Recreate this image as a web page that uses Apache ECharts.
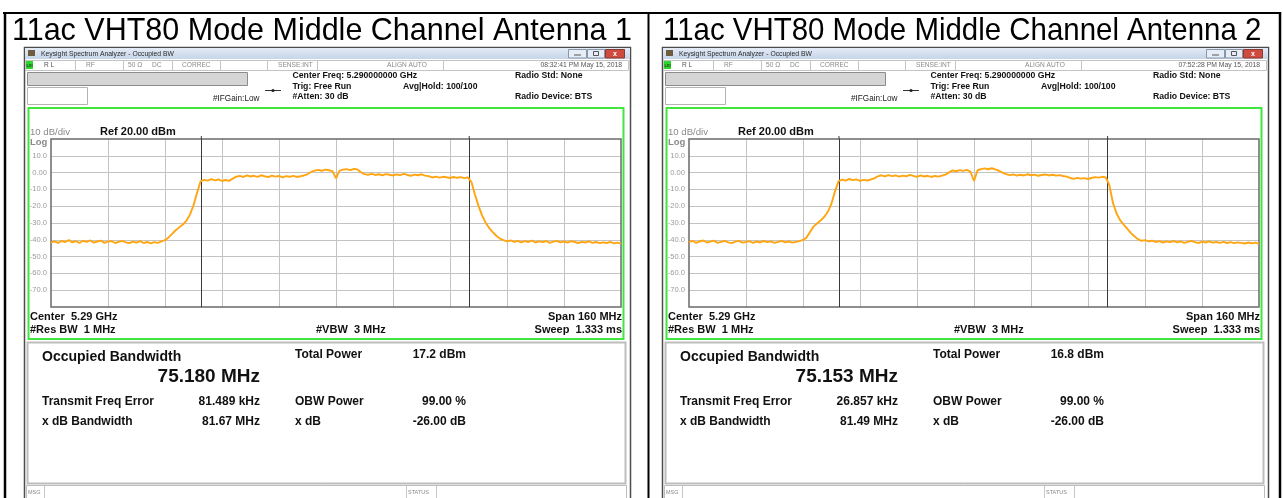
<!DOCTYPE html>
<html>
<head>
<meta charset="utf-8">
<title>11ac VHT80 Mode Middle Channel</title>
<script src="https://cdn.jsdelivr.net/npm/echarts@6.0.0/dist/echarts.min.js"></script>
<style>
  html, body { margin: 0; padding: 0; background: #fff; }
  #main { width: 1283px; height: 498px; }
</style>
</head>
<body>
<div id="main"></div>
<script>
// frequency offset from 5.29 GHz centre, MHz (span 160 MHz)
const freqOffsetMHz = [
  -80, -79, -78, -77, -76, -75, -74, -73, -72, -71,
  -70, -69, -68, -67, -66, -65, -64, -63, -62, -61,
  -60, -59, -58, -57, -56, -55, -54, -53, -52, -51,
  -50, -49, -48, -47, -46, -45, -44, -43, -42, -41,
  -40, -39, -38, -37, -36, -35, -34, -33, -32, -31,
  -30, -29, -28, -27, -26, -25, -24, -23, -22, -21,
  -20, -19, -18, -17, -16, -15, -14, -13, -12, -11,
  -10, -9, -8, -7, -6, -5, -4, -3, -2, -1,
  0, 1, 2, 3, 4, 5, 6, 7, 8, 9,
  10, 11, 12, 13, 14, 15, 16, 17, 18, 19,
  20, 21, 22, 23, 24, 25, 26, 27, 28, 29,
  30, 31, 32, 33, 34, 35, 36, 37, 38, 39,
  40, 41, 42, 43, 44, 45, 46, 47, 48, 49,
  50, 51, 52, 53, 54, 55, 56, 57, 58, 59,
  60, 61, 62, 63, 64, 65, 66, 67, 68, 69,
  70, 71, 72, 73, 74, 75, 76, 77, 78, 79,
  80
];

// trace level, dBm  (antenna 1)
const levelAnt1 = [
  -41.6, -40.9, -41.8, -40.7, -41.3, -40.2, -41.5, -40.8, -41.9, -40.6,
  -41.2, -40.4, -41.7, -41.0, -40.5, -41.8, -41.1, -40.7, -41.9, -41.2,
  -40.6, -41.5, -42.0, -41.1, -41.7, -40.8, -41.9, -41.3, -42.1, -41.4,
  -41.8, -41.0, -40.2, -38.6, -36.5, -34.3, -32.6, -30.9, -28.7, -25.0,
  -19.5, -12.0, -5.2, -4.3, -4.8, -3.9, -4.6, -4.1, -5.0, -4.4,
  -4.9, -3.6, -2.4, -2.0, -2.6, -1.7, -2.3, -1.9, -2.5, -1.6,
  -2.2, -2.7, -1.8, -2.4, -2.0, -2.8, -2.1, -2.5, -1.9, -2.6,
  -2.2, -1.7, -1.0, 0.4, 1.2, 1.6, 1.1, 1.8, 1.4, 0.9,
  -3.4, 1.2, 1.8, 2.1, 1.5, 2.2, 1.9, 0.2, -0.9, -1.3,
  -0.8, -1.4, -1.0, -1.6, -0.9, -1.3, -1.7, -1.1, -1.5, -0.8,
  -1.4, -1.9, -1.2, -1.6, -1.0, -1.8, -2.1, -2.9, -2.4, -3.0,
  -2.5, -2.8, -3.2, -2.6, -3.1, -2.7, -3.3, -2.8, -5.5, -13.0,
  -19.8, -25.5, -29.8, -33.0, -35.4, -37.6, -39.3, -40.2, -40.9, -40.4,
  -41.2, -40.6, -41.5, -40.8, -41.3, -40.5, -41.6, -40.9, -41.4, -40.7,
  -41.8, -41.1, -40.6, -41.5, -41.0, -41.7, -40.8, -41.3, -41.9, -41.2,
  -41.6, -40.9, -41.8, -41.3, -42.0, -41.5, -41.9, -41.2, -42.1, -41.7,
  -42.3
];

// trace level, dBm  (antenna 2)
const levelAnt2 = [
  -41.3, -40.6, -41.9, -41.0, -40.4, -41.6, -41.1, -40.5, -41.8, -41.2,
  -40.7, -41.5, -42.0, -41.1, -40.6, -41.7, -41.3, -40.8, -41.9, -41.0,
  -41.6, -40.7, -41.4, -40.9, -41.8, -41.2, -40.6, -41.5, -41.0, -41.7,
  -41.2, -40.8, -40.1, -38.7, -35.2, -32.0, -30.1, -28.4, -26.3, -23.2,
  -18.4, -11.0, -5.1, -4.2, -4.8, -3.8, -4.5, -4.0, -4.9, -4.3,
  -4.7, -4.1, -3.4, -2.2, -1.6, -2.3, -1.5, -2.1, -1.7, -2.4,
  -1.8, -2.2, -1.4, -2.0, -2.5, -1.7, -2.3, -1.9, -2.6, -2.0,
  -2.4, -1.8, -1.2, 0.1, 1.3, 0.8, 1.5, 1.0, 1.6, 0.6,
  -5.0, 1.4, 2.1, 2.5, 2.0, 2.6, 1.9, 1.1, 0.0, -0.9,
  -1.5, -1.1, -1.8, -1.3, -1.7, -1.0, -1.6, -1.2, -1.9, -1.4,
  -1.1, -1.7, -1.3, -1.8, -1.5, -2.0, -2.4, -3.2, -3.7, -3.1,
  -3.6, -3.3, -3.8, -3.2, -2.7, -3.0, -2.5, -2.9, -7.5, -18.0,
  -24.2, -28.3, -30.9, -33.4, -35.9, -37.9, -39.6, -40.6, -40.2, -41.0,
  -40.5, -41.3, -40.8, -41.6, -40.9, -41.4, -40.7, -41.5, -41.0, -41.8,
  -41.2, -40.6, -41.4, -41.9, -41.1, -41.6, -40.9, -41.7, -41.3, -41.8,
  -41.2, -41.9, -41.4, -42.0, -41.5, -41.8, -42.2, -41.6, -42.1, -41.7,
  -42.4
];

// y tick labels from ref level (20) down to -80
const yTickLabels = ['', '10.0', '0.00', '-10.0', '-20.0', '-30.0', '-40.0', '-50.0', '-60.0', '-70.0', ''];

// occupied bandwidth edges (marker lines), MHz offset
const obwEdgesAnt1 = [-37.8, 37.4];
const obwEdgesAnt2 = [-37.9, 37.5];

const panelTitles = ['11ac VHT80 Mode Middle Channel Antenna 1', '11ac VHT80 Mode Middle Channel Antenna 2'];
const timeStamps = ['08:32:41 PM May 15, 2018', '07:52:28 PM May 15, 2018'];
const obwValues = ['75.180 MHz', '75.153 MHz'];
const totalPowers = ['17.2 dBm', '16.8 dBm'];
const freqErrors = ['81.489 kHz', '26.857 kHz'];
const xdbBandwidths = ['81.67 MHz', '81.49 MHz'];

const FONT = '"Liberation Sans", Arial, sans-serif';
const PANEL_SHIFT = 638;

function text(x, y, s, size, opt) {
  opt = opt || {};
  return {
    type: 'text', x: x, y: y, z: 20, silent: true,
    style: {
      text: s,
      font: (opt.bold ? 'bold ' : '') + size + 'px ' + FONT,
      fill: opt.color || '#111',
      align: opt.align || 'left', textAlign: opt.align || 'left',
      verticalAlign: 'middle', textVerticalAlign: 'middle'
    }
  };
}
function rect(x, y, w, h, fill, stroke, lw, z) {
  return {
    type: 'rect', z: z == null ? 1 : z, silent: true,
    shape: { x: x, y: y, width: w, height: h },
    style: { fill: fill || 'none', stroke: stroke || null, lineWidth: lw || 1 }
  };
}
function line(x1, y1, x2, y2, color, lw, z) {
  return {
    type: 'line', z: z == null ? 2 : z, silent: true,
    shape: { x1: x1, y1: y1, x2: x2, y2: y2 },
    style: { stroke: color, lineWidth: lw || 1 }
  };
}

// analyzer screenshot chrome for one panel, ox = horizontal shift
function panelGraphics(i) {
  var ox = i * PANEL_SHIFT;
  var g = [];
  // window body
  g.push(rect(ox + 24.5, 47.5, 606, 460, '#ffffff', '#4d4d4d', 1.5, 0));
  // title bar
  g.push({
    type: 'rect', z: 1, silent: true,
    shape: { x: ox + 25, y: 48, width: 605, height: 11 },
    style: {
      fill: new echarts.graphic.LinearGradient(0, 0, 0, 1, [
        { offset: 0, color: '#e3ebf6' }, { offset: 1, color: '#c6d5e9' }
      ])
    }
  });
  g.push(rect(ox + 28, 50, 7, 6, '#6e5d3c', null, 1, 2));
  g.push(text(ox + 41, 54, 'Keysight Spectrum Analyzer - Occupied BW', 6.8, { color: '#2a2a2a' }));
  g.push(rect(ox + 568.5, 49.5, 18, 8.5, '#e6edf6', '#8796ab', 1, 2));
  g.push(line(ox + 574, 55, ox + 581, 55, '#555', 1, 3));
  g.push(rect(ox + 587.5, 49.5, 17, 8.5, '#e6edf6', '#8796ab', 1, 2));
  g.push(rect(ox + 593.5, 51.5, 5, 4, null, '#555', 1, 3));
  g.push(rect(ox + 605.5, 49.5, 19, 8.5, '#cf4b3e', '#8a3a30', 1, 2));
  g.push(text(ox + 615, 54, 'x', 7, { bold: true, color: '#fff', align: 'center' }));

  // status row
  g.push(rect(ox + 25.5, 60.5, 603, 10, '#ffffff', '#c4c4c4', 1, 1));
  g.push(rect(ox + 26, 61, 7, 8, '#2fd42f', null, 1, 2));
  g.push(text(ox + 29.5, 65.5, 'LXI', 4, { bold: true, color: '#114411', align: 'center' }));
  [75, 123, 172, 220, 267, 317, 443].forEach(function (x) {
    g.push(line(ox + x + 0.5, 61, ox + x + 0.5, 70, '#c4c4c4', 1, 2));
  });
  var gray = '#8a8a8a';
  g.push(text(ox + 44, 65.5, 'R L', 6.6, { color: '#555' }));
  g.push(text(ox + 86, 65.5, 'RF', 6.6, { color: gray }));
  g.push(text(ox + 128, 65.5, '50 Ω', 6.6, { color: gray }));
  g.push(text(ox + 152, 65.5, 'DC', 6.6, { color: gray }));
  g.push(text(ox + 182, 65.5, 'CORREC', 6.6, { color: gray }));
  g.push(text(ox + 278, 65.5, 'SENSE:INT', 6.6, { color: gray }));
  g.push(text(ox + 387, 65.5, 'ALIGN AUTO', 6.6, { color: gray }));
  g.push(text(ox + 622, 65.5, timeStamps[i], 6.8, { color: '#555', align: 'right' }));

  // header boxes and settings
  g.push(rect(ox + 27.5, 72.5, 220, 13, '#d5d5d5', '#8c8c8c', 1, 1));
  g.push(rect(ox + 27.5, 87.5, 60, 17, '#ffffff', '#b4b4b4', 1, 1));
  g.push(text(ox + 213, 98.5, '#IFGain:Low', 8.2, { color: '#222' }));
  g.push(line(ox + 265, 90.5, ox + 281, 90.5, '#333', 1, 2));
  g.push({ type: 'circle', z: 3, silent: true, shape: { cx: ox + 273, cy: 90.5, r: 1.6 }, style: { fill: '#222' } });
  g.push(text(ox + 292.5, 76, 'Center Freq: 5.290000000 GHz', 8.7, { bold: true }));
  g.push(text(ox + 292.5, 86.5, 'Trig: Free Run', 8.7, { bold: true }));
  g.push(text(ox + 292.5, 97, '#Atten: 30 dB', 8.7, { bold: true }));
  g.push(text(ox + 403, 86.5, 'Avg|Hold: 100/100', 8.7, { bold: true }));
  g.push(text(ox + 515, 76, 'Radio Std: None', 8.7, { bold: true }));
  g.push(text(ox + 515, 97, 'Radio Device: BTS', 8.7, { bold: true }));

  // green measurement frame
  g.push(rect(ox + 28.5, 108, 595, 231, null, '#3ee63e', 2, 2));
  g.push(text(ox + 30, 132, '10 dB/div', 9.6, { color: '#8a8a8a' }));
  g.push(text(ox + 100, 132, 'Ref 20.00 dBm', 11, { bold: true }));
  g.push(text(ox + 30, 142.5, 'Log', 9.5, { bold: true, color: '#8a8a8a' }));
  g.push(text(ox + 30, 317, 'Center  5.29 GHz', 11, { bold: true }));
  g.push(text(ox + 30, 330, '#Res BW  1 MHz', 11, { bold: true }));
  g.push(text(ox + 316, 330, '#VBW  3 MHz', 11, { bold: true }));
  g.push(text(ox + 622, 317, 'Span 160 MHz', 11, { bold: true, align: 'right' }));
  g.push(text(ox + 622, 330, 'Sweep  1.333 ms', 11, { bold: true, align: 'right' }));
  // marker lines poke slightly above the graticule
  g.push(line(ox + 51 + (obwEdges[i][0] + 80) * 570 / 160, 136, ox + 51 + (obwEdges[i][0] + 80) * 570 / 160, 139, '#3a3a3a', 1, 6));
  g.push(line(ox + 51 + (obwEdges[i][1] + 80) * 570 / 160, 136, ox + 51 + (obwEdges[i][1] + 80) * 570 / 160, 139, '#3a3a3a', 1, 6));

  // result table
  g.push(rect(ox + 27.5, 342.5, 598, 141, '#ffffff', '#bdbdbd', 2, 1));
  g.push(text(ox + 42, 357, 'Occupied Bandwidth', 14, { bold: true }));
  g.push(text(ox + 260, 376.5, obwValues[i], 19, { bold: true, align: 'right' }));
  g.push(text(ox + 295, 355, 'Total Power', 12, { bold: true }));
  g.push(text(ox + 466, 355, totalPowers[i], 12, { bold: true, align: 'right' }));
  g.push(text(ox + 42, 402, 'Transmit Freq Error', 12, { bold: true }));
  g.push(text(ox + 260, 402, freqErrors[i], 12, { bold: true, align: 'right' }));
  g.push(text(ox + 295, 402, 'OBW Power', 12, { bold: true }));
  g.push(text(ox + 466, 402, '99.00 %', 12, { bold: true, align: 'right' }));
  g.push(text(ox + 42, 422, 'x dB Bandwidth', 12, { bold: true }));
  g.push(text(ox + 260, 422, xdbBandwidths[i], 12, { bold: true, align: 'right' }));
  g.push(text(ox + 295, 422, 'x dB', 12, { bold: true }));
  g.push(text(ox + 466, 422, '-26.00 dB', 12, { bold: true, align: 'right' }));

  // message / status row
  g.push(rect(ox + 26.5, 485.5, 600, 14, '#ffffff', '#bdbdbd', 1, 1));
  g.push(line(ox + 44.5, 486, ox + 44.5, 498, '#c8c8c8', 1, 2));
  g.push(line(ox + 406.5, 486, ox + 406.5, 498, '#c8c8c8', 1, 2));
  g.push(line(ox + 436.5, 486, ox + 436.5, 498, '#c8c8c8', 1, 2));
  g.push(text(ox + 28, 492, 'MSG', 5.5, { color: '#888' }));
  g.push(text(ox + 408, 492, 'STATUS', 5.5, { color: '#888' }));

  // caption of the document table cell
  var cap = text(i ? 663 : 12, 31.5, panelTitles[i], 30.5, { color: '#000' });
  if (i) { cap.scaleX = 0.965; cap.originX = 0; cap.originY = 0; }
  g.push(cap);
  return g;
}

const obwEdges = [obwEdgesAnt1, obwEdgesAnt2];

var graphics = [];
graphics = graphics.concat(panelGraphics(0), panelGraphics(1));
graphics.push(line(3, 13, 1281, 13, '#000', 2, 30));
graphics.push(line(5, 12, 5, 498, '#000', 2.5, 30));
graphics.push(line(648.5, 12, 648.5, 498, '#000', 2, 30));
graphics.push(line(1280, 12, 1280, 498, '#000', 2.5, 30));

function pairs(levels) {
  var out = [];
  for (var k = 0; k < freqOffsetMHz.length; k++) {
    out.push([freqOffsetMHz[k], levels[k]]);
  }
  return out;
}

function xAxisOpt(idx) {
  return {
    type: 'value', gridIndex: idx, min: -80, max: 80, interval: 16,
    axisLine: { show: false }, axisTick: { show: false }, axisLabel: { show: false },
    splitLine: { show: true, showMinLine: false, showMaxLine: false, lineStyle: { color: '#c3c3c3', width: 1 } }
  };
}
function yAxisOpt(idx) {
  return {
    type: 'value', gridIndex: idx, min: -80, max: 20, interval: 10,
    axisLine: { show: false }, axisTick: { show: false },
    axisLabel: {
      show: true, margin: 4, color: '#9a9a9a', fontSize: 7.6, fontFamily: FONT,
      formatter: function (v) { return yTickLabels[Math.round((20 - v) / 10)]; }
    },
    splitLine: { show: true, showMinLine: false, showMaxLine: false, lineStyle: { color: '#c3c3c3', width: 1 } }
  };
}
function traceSeries(idx, levels, edges) {
  return {
    type: 'line', xAxisIndex: idx, yAxisIndex: idx,
    data: pairs(levels), showSymbol: false, smooth: false, z: 5,
    lineStyle: { color: '#ffa512', width: 1.9 },
    markLine: {
      silent: true, symbol: 'none', label: { show: false },
      lineStyle: { color: '#3a3a3a', width: 1, type: 'solid' },
      data: [{ xAxis: edges[0] }, { xAxis: edges[1] }]
    }
  };
}

var myChart = echarts.init(document.getElementById('main'), null, { renderer: 'canvas' });
var option = {
  animation: false,
  backgroundColor: '#ffffff',
  grid: [
    { left: 51, top: 139, width: 570, height: 168, show: true, borderColor: '#6a6a6a', borderWidth: 1.5, backgroundColor: 'transparent', z: 4 },
    { left: 51 + PANEL_SHIFT, top: 139, width: 570, height: 168, show: true, borderColor: '#6a6a6a', borderWidth: 1.5, backgroundColor: 'transparent', z: 4 }
  ],
  xAxis: [xAxisOpt(0), xAxisOpt(1)],
  yAxis: [yAxisOpt(0), yAxisOpt(1)],
  series: [
    traceSeries(0, levelAnt1, obwEdgesAnt1),
    traceSeries(1, levelAnt2, obwEdgesAnt2)
  ],
  graphic: { elements: graphics }
};
myChart.setOption(option);
</script>
</body>
</html>
